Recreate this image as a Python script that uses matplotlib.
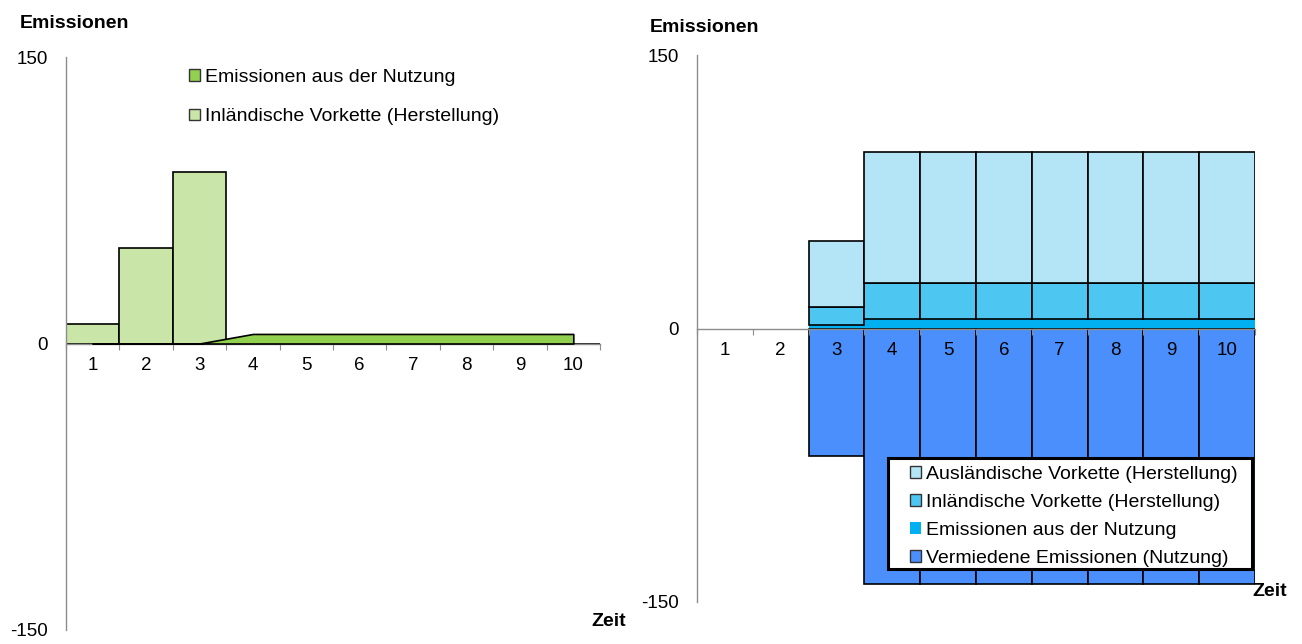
import matplotlib.pyplot as plt
import numpy as np
from matplotlib.patches import Patch, Rectangle

plt.rcParams['font.family'] = ['Liberation Sans', 'DejaVu Sans']

zeit = np.arange(1, 11)
zeit_labels = [str(z) for z in zeit]

# linkes Diagramm
links_inland = [10, 50, 90, 0, 0, 0, 0, 0, 0, 0]
links_nutzung = [0, 0, 0, 5, 5, 5, 5, 5, 5, 5]

# rechtes Diagramm
rechts_nutzung = [0, 0, 2, 5, 5, 5, 5, 5, 5, 5]
rechts_inland = [0, 0, 10, 20, 20, 20, 20, 20, 20, 20]
rechts_ausland = [0, 0, 36, 72, 72, 72, 72, 72, 72, 72]
rechts_vermieden = [0, 0, -70, -140, -140, -140, -140, -140, -140, -140]

hellgruen = '#c9e5a7'
gruen = '#92d050'
hellblau = '#b4e5f7'
mittelblau = '#4dc6f1'
cyan = '#00b0f0'
blau = '#4b8ffd'
achse = '#8c8c8c'

W, H = 1302, 644
fig = plt.figure(figsize=(W / 100, H / 100), dpi=100)


def px_box(x0, x1, ytop, ybot):
    return [x0 / W, 1 - ybot / H, (x1 - x0) / W, (ybot - ytop) / H]


def style_axes(ax):
    ax.set_xlim(0.5, 10.5)
    ax.set_ylim(-150, 150)
    for s in ['top', 'right']:
        ax.spines[s].set_visible(False)
    ax.spines['left'].set_color(achse)
    ax.spines['bottom'].set_color(achse)
    ax.spines['left'].set_linewidth(1)
    ax.spines['bottom'].set_linewidth(1)
    ax.spines['bottom'].set_position(('data', 0))
    ax.set_yticks([-150, 0, 150])
    ax.set_yticklabels(['-150', '0', '150'])
    ax.tick_params(axis='y', length=0, pad=13, labelsize=13.5)
    ax.set_xticks(np.arange(0.5, 11, 1))
    ax.set_xticklabels([])
    ax.set_xticks(zeit, minor=True)
    ax.set_xticklabels(zeit_labels, minor=True)
    ax.tick_params(axis='x', which='major', length=4, color=achse, direction='out')
    ax.tick_params(axis='x', which='minor', length=0, pad=10, labelsize=13.5)
    ax.set_axisbelow(False)


ax1 = fig.add_axes(px_box(66, 600, 57, 630))
style_axes(ax1)
ax1.bar(zeit, links_inland, width=1, color=hellgruen, edgecolor='black', linewidth=1.2, zorder=2)
ax1.fill_between(zeit, 0, links_nutzung, color=gruen, edgecolor='black', linewidth=1.2, zorder=3)

leg1 = ax1.legend(handles=[Patch(facecolor=gruen, edgecolor='#333333', label='Emissionen aus der Nutzung'),
                           Patch(facecolor=hellgruen, edgecolor='#333333', label='Inländische Vorkette (Herstellung)')],
                  loc='upper left', bbox_to_anchor=(189 / W, 1 - 69 / H), bbox_transform=fig.transFigure,
                  frameon=False, fontsize=14, borderpad=0, borderaxespad=0,
                  handlelength=0.55, handleheight=0.55, handletextpad=0.25, labelspacing=1.15)

ax2 = fig.add_axes(px_box(697, 1255, 55, 602))
style_axes(ax2)
ax2.bar(zeit, rechts_nutzung, width=1, color=cyan, linewidth=0, zorder=2)
ax2.bar(zeit, rechts_inland, width=1, bottom=rechts_nutzung, color=mittelblau,
        edgecolor=['none' if v == 0 else 'black' for v in rechts_inland], linewidth=1.2, zorder=2)
unten = np.add(rechts_nutzung, rechts_inland)
ax2.bar(zeit, rechts_ausland, width=1, bottom=unten, color=hellblau,
        edgecolor=['none' if v == 0 else 'black' for v in rechts_ausland], linewidth=1.2, zorder=2)
ax2.bar(zeit, rechts_vermieden, width=1, color=blau,
        edgecolor=['none' if v == 0 else 'black' for v in rechts_vermieden], linewidth=1.2, zorder=2)

# Rahmen der rechten Legende
fig.add_artist(Rectangle((888 / W, 1 - 569 / H), 364 / W, 111 / H, transform=fig.transFigure,
                         facecolor='white', edgecolor='black', linewidth=2.2, zorder=4))
leg2 = fig.legend(handles=[Patch(facecolor=hellblau, edgecolor='#333333', label='Ausländische Vorkette (Herstellung)'),
                           Patch(facecolor=mittelblau, edgecolor='#333333', label='Inländische Vorkette (Herstellung)'),
                           Patch(facecolor=cyan, edgecolor='none', label='Emissionen aus der Nutzung'),
                           Patch(facecolor=blau, edgecolor='#333333', label='Vermiedene Emissionen (Nutzung)')],
                  loc='upper left', bbox_to_anchor=(910 / W, 1 - 466 / H), bbox_transform=fig.transFigure,
                  frameon=False, fontsize=14, borderpad=0, borderaxespad=0,
                  handlelength=0.55, handleheight=0.55, handletextpad=0.25, labelspacing=0.56)
leg2.set_zorder(5)

fig.text(20 / W, 1 - 24 / H, 'Emissionen', fontsize=14, fontweight='bold', ha='left', va='center')
fig.text(650 / W, 1 - 27 / H, 'Emissionen', fontsize=14, fontweight='bold', ha='left', va='center')
fig.text(609 / W, 1 - 621 / H, 'Zeit', fontsize=14, fontweight='bold', ha='center', va='center')
fig.text(1270 / W, 1 - 592 / H, 'Zeit', fontsize=14, fontweight='bold', ha='center', va='center')

fig.savefig('out.png', dpi=100)
